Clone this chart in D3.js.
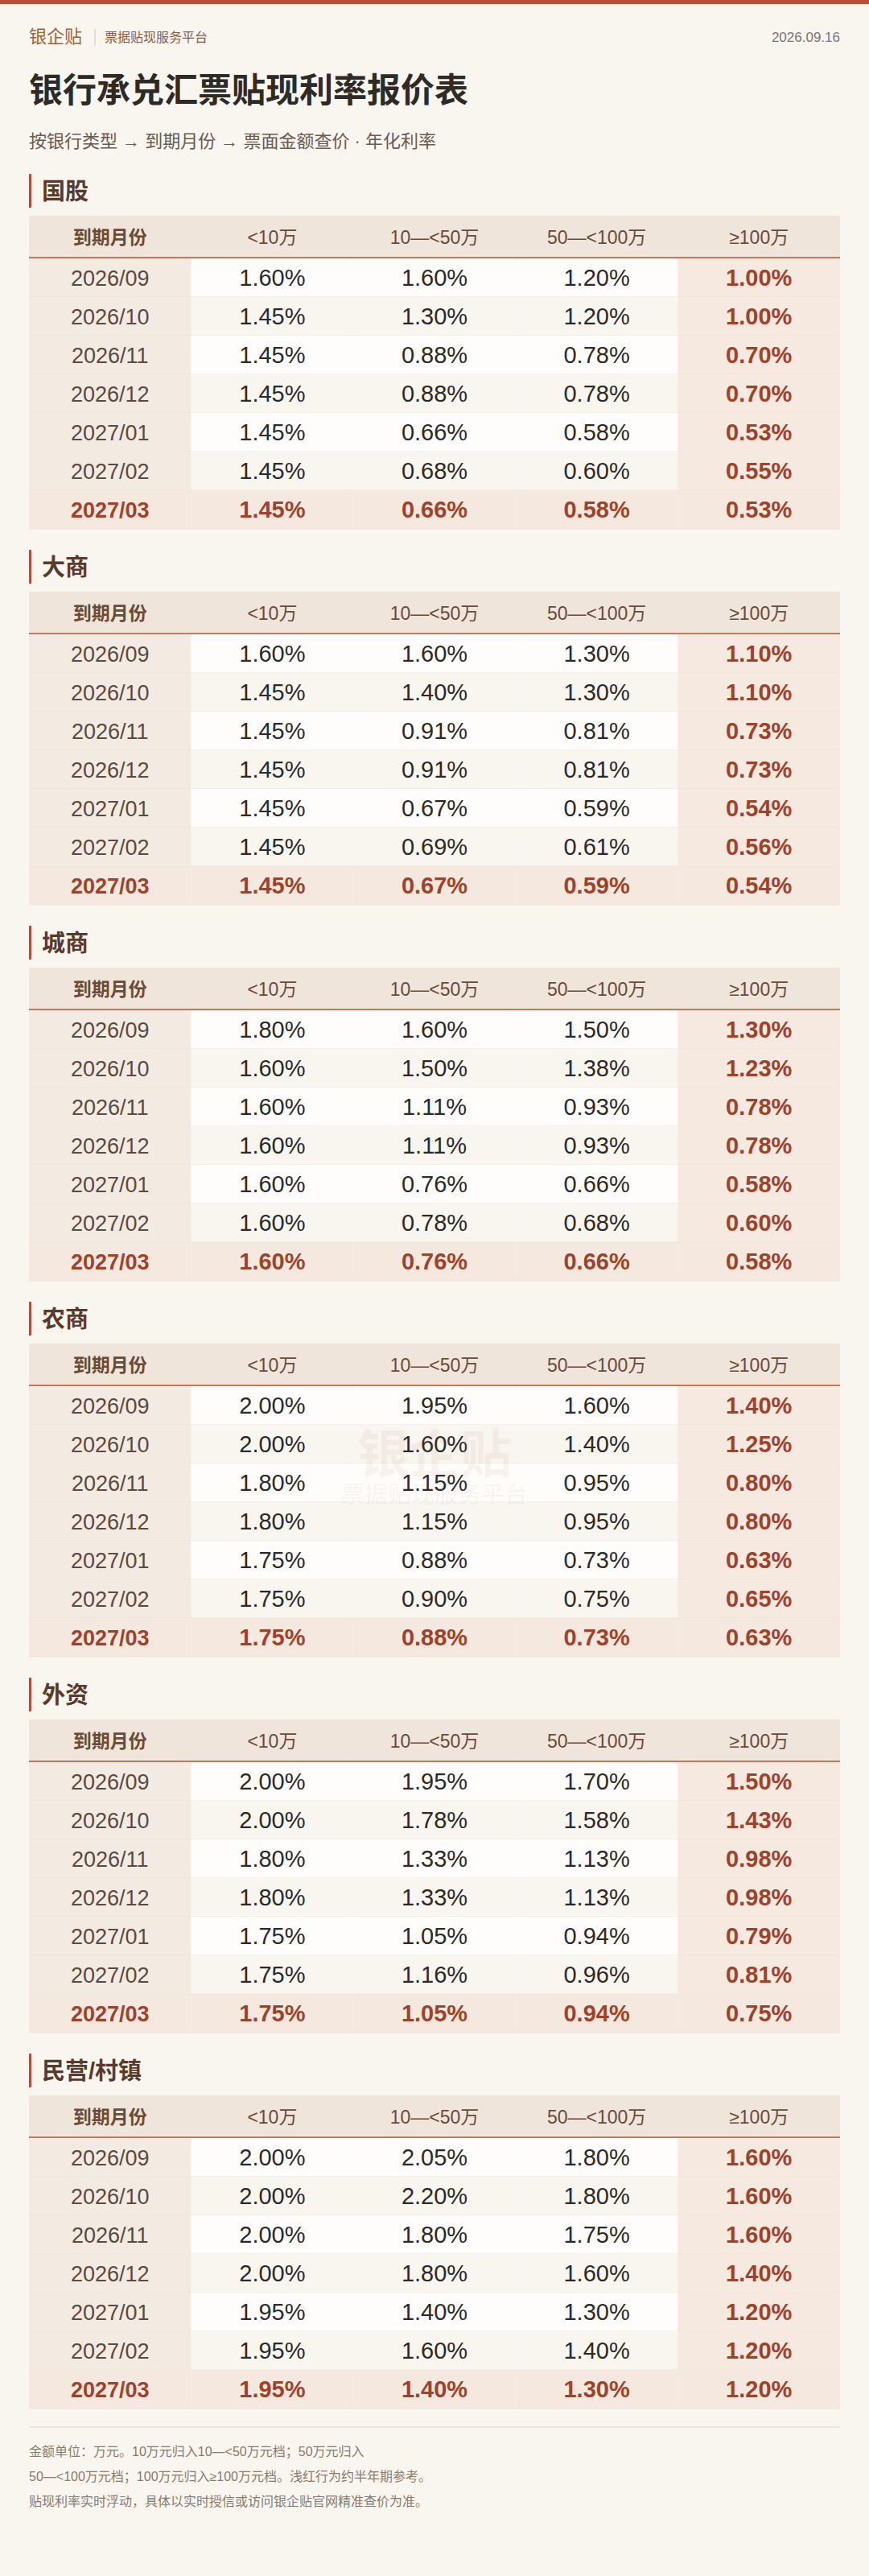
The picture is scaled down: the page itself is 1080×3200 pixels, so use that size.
<!DOCTYPE html>
<html><head><meta charset="utf-8">
<script src="https://cdn.jsdelivr.net/npm/d3@7"></script>
<style>
body{margin:0;background:#f9f6f0;}
svg text{font-family:"Liberation Sans","Noto Sans CJK SC",sans-serif;}
</style></head>
<body><svg id="chart" width="1080" height="3200"></svg>
<script>
// data
var banks = ['国股', '大商', '城商', '农商', '外资', '民营/村镇'];
var months = ['2026/09', '2026/10', '2026/11', '2026/12', '2027/01', '2027/02', '2027/03'];
var tiers = ['<10万', '10—<50万', '50—<100万', '≥100万'];
var guogu   = [[1.60,1.60,1.20,1.00],[1.45,1.30,1.20,1.00],[1.45,0.88,0.78,0.70],[1.45,0.88,0.78,0.70],[1.45,0.66,0.58,0.53],[1.45,0.68,0.60,0.55],[1.45,0.66,0.58,0.53]];
var dashang = [[1.60,1.60,1.30,1.10],[1.45,1.40,1.30,1.10],[1.45,0.91,0.81,0.73],[1.45,0.91,0.81,0.73],[1.45,0.67,0.59,0.54],[1.45,0.69,0.61,0.56],[1.45,0.67,0.59,0.54]];
var chengshang = [[1.80,1.60,1.50,1.30],[1.60,1.50,1.38,1.23],[1.60,1.11,0.93,0.78],[1.60,1.11,0.93,0.78],[1.60,0.76,0.66,0.58],[1.60,0.78,0.68,0.60],[1.60,0.76,0.66,0.58]];
var nongshang = [[2.00,1.95,1.60,1.40],[2.00,1.60,1.40,1.25],[1.80,1.15,0.95,0.80],[1.80,1.15,0.95,0.80],[1.75,0.88,0.73,0.63],[1.75,0.90,0.75,0.65],[1.75,0.88,0.73,0.63]];
var waizi = [[2.00,1.95,1.70,1.50],[2.00,1.78,1.58,1.43],[1.80,1.33,1.13,0.98],[1.80,1.33,1.13,0.98],[1.75,1.05,0.94,0.79],[1.75,1.16,0.96,0.81],[1.75,1.05,0.94,0.75]];
var minying = [[2.00,2.05,1.80,1.60],[2.00,2.20,1.80,1.60],[2.00,1.80,1.75,1.60],[2.00,1.80,1.60,1.40],[1.95,1.40,1.30,1.20],[1.95,1.60,1.40,1.20],[1.95,1.40,1.30,1.20]];
var rates = [guogu, dashang, chengshang, nongshang, waizi, minying];
var footnotes = ['金额单位：万元。10万元归入10—<50万元档；50万元归入',
  '50—<100万元档；100万元归入≥100万元档。浅红行为约半年期参考。',
  '贴现利率实时浮动，具体以实时授信或访问银企贴官网精准查价为准。'];

var svg = d3.select('#chart');
var RED = '#a0422a';

svg.append('rect').attr('width', 1080).attr('height', 5).attr('fill', '#b0523a');
// header
svg.append('text').attr('x', 36).attr('y', 53).attr('font-size', 22).attr('fill', '#a0623f').text('银企贴');
svg.append('line').attr('x1', 118).attr('x2', 118).attr('y1', 36).attr('y2', 57).attr('stroke', '#d8c0b0');
svg.append('text').attr('x', 130).attr('y', 52).attr('font-size', 16).attr('fill', '#8a5a3f').text('票据贴现服务平台');
svg.append('text').attr('x', 1044).attr('y', 52).attr('text-anchor', 'end').attr('font-size', 17).attr('fill', '#777').text('2026.09.16');
svg.append('text').attr('x', 36).attr('y', 127).attr('font-size', 42).attr('font-weight', 'bold').attr('fill', '#2e2a26').text('银行承兑汇票贴现利率报价表');
svg.append('text').attr('x', 36).attr('y', 183).attr('font-size', 22).attr('fill', '#6a5a50').text('按银行类型 → 到期月份 → 票面金额查价 · 年化利率');

var cols = ['到期月份'].concat(tiers);
var x = d3.scaleBand().domain(d3.range(cols.length)).range([36, 1044]);
var secY = d3.scaleLinear().domain([0, 1]).range([216, 683]);
var headH = 53, rowH = 48;

banks.forEach(function (bank, bi) {
  var y0 = secY(bi);
  var g = svg.append('g').attr('transform', 'translate(0,' + y0 + ')');
  g.append('rect').attr('x', 36).attr('y', 0).attr('width', 3).attr('height', 42).attr('fill', '#b0523a');
  g.append('text').attr('x', 52).attr('y', 32).attr('font-size', 29).attr('font-weight', 'bold').attr('fill', '#5a3a2a').text(bank);

  var ty = 52;
  g.append('rect').attr('x', 36).attr('y', ty).attr('width', 1008).attr('height', headH).attr('fill', '#efe5da');
  g.selectAll('.hd').data(cols).enter().append('text')
    .attr('x', function (d, i) { return x(i) + x.bandwidth() / 2; })
    .attr('y', ty + 35).attr('text-anchor', 'middle').attr('font-size', 23)
    .attr('font-weight', function (d, i) { return i === 0 ? 'bold' : 'normal'; })
    .attr('fill', '#6a4a38').text(String);
  g.append('rect').attr('x', 36).attr('y', ty + headH - 2).attr('width', 1008).attr('height', 2.5).attr('fill', '#c07a5f');

  var y = d3.scaleBand().domain(months).range([ty + headH, ty + headH + rowH * months.length]);
  var rows = g.selectAll('.row').data(rates[bi]).enter().append('g');
  rows.each(function (vals, ri) {
    var r = d3.select(this), ry = y(months[ri]), last = ri === months.length - 1;
    var cells = [months[ri]].concat(vals);
    r.selectAll('rect').data(cells).enter().append('rect')
      .attr('x', function (d, i) { return x(i); }).attr('y', ry)
      .attr('width', x.bandwidth()).attr('height', rowH)
      .attr('fill', function (d, i) {
        if (last) return '#f5e8de';
        if (i === 0) return '#f3ebe2';
        if (i === 4) return '#f5e9e0';
        return ri % 2 === 0 ? '#fefdfb' : '#f9f6f0';
      });
    r.append('line').attr('x1', 36).attr('x2', 1044).attr('y1', ry + rowH).attr('y2', ry + rowH)
      .attr('stroke', '#ebe3da').attr('stroke-width', 1);
    r.selectAll('text').data(cells).enter().append('text')
      .attr('x', function (d, i) { return x(i) + x.bandwidth() / 2; })
      .attr('y', ry + rowH / 2 + 10).attr('text-anchor', 'middle')
      .attr('font-size', function (d, i) { return i === 0 ? 27 : 29; })
      .attr('font-weight', function (d, i) { return (last || i === 4) ? 'bold' : 'normal'; })
      .attr('fill', function (d, i) {
        if (last) return RED;
        if (i === 0) return '#5a4a40';
        if (i === 4) return RED;
        return '#2a2a2a';
      })
      .text(function (d, i) { return i === 0 ? d : d.toFixed(2) + '%'; });
  });
  if (bank === '农商') {
    g.append('text').attr('x', 540).attr('y', ty + 160).attr('text-anchor', 'middle').attr('font-size', 64)
      .attr('font-weight', 'bold').attr('fill', 'rgba(160,100,60,0.07)').text('银企贴');
    g.append('text').attr('x', 540).attr('y', ty + 198).attr('text-anchor', 'middle').attr('font-size', 29)
      .attr('fill', 'rgba(160,100,60,0.07)').text('票据贴现服务平台');
  }
});

svg.append('line').attr('x1', 36).attr('x2', 1044).attr('y1', 3015).attr('y2', 3015).attr('stroke', '#ddd5cc');
svg.selectAll('.fn').data(footnotes).enter().append('text')
  .attr('x', 36).attr('y', function (d, i) { return 3051 + i * 31; })
  .attr('font-size', 16).attr('fill', '#8a7a6a').text(String);
</script></body></html>
